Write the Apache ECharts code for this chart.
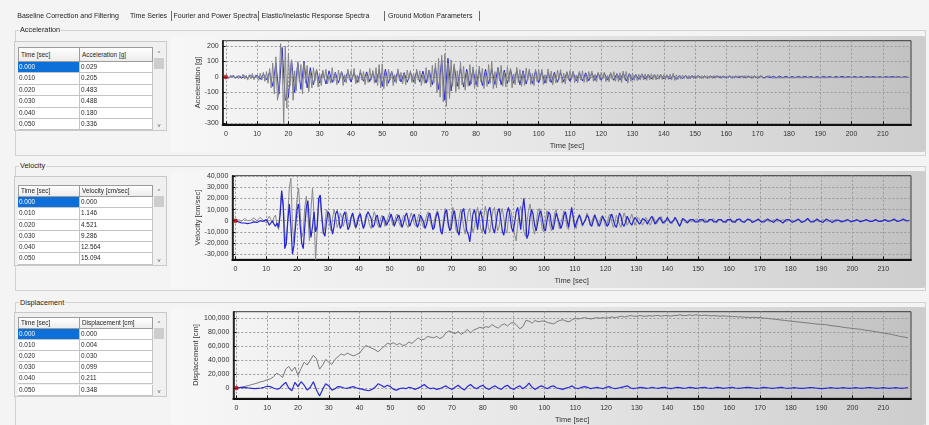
<!DOCTYPE html>
<html>
<head>
<meta charset="utf-8">
<title>Time Series</title>
<script src="https://cdn.jsdelivr.net/npm/echarts@6.0.0/dist/echarts.min.js"></script>
<style>
html,body{margin:0;padding:0;}
body{width:929px;height:425px;overflow:hidden;position:relative;background:#f4f4f4;font-family:'Liberation Sans',Arial,sans-serif;color:#1e1e1e;}
#chart{position:absolute;left:0;top:0;width:929px;height:425px;z-index:1;}
.a{position:absolute;white-space:nowrap;}
.tab{font-size:7px;line-height:9px;z-index:3;}
.sep{width:1px;height:10px;background:#6a6a6a;z-index:3;}
.grp{border:1px solid #d2d2d2;z-index:0;box-sizing:border-box;}
.panel{z-index:0;border-radius:3px;background:linear-gradient(90deg,#f7f7f7 0%,#e6e6e6 50%,#cdcdcd 100%);}
.glab{font-size:7.3px;line-height:9px;background:#f4f4f4;padding:0 1px;z-index:3;}
.tbox{background:#f0f0f0;border:1px solid #c9c9c9;box-sizing:border-box;z-index:2;}
.hd{box-sizing:border-box;background:linear-gradient(#ffffff,#ececec);border:1px solid #9c9c9c;font-size:6.4px;padding-left:2px;z-index:3;overflow:hidden;}
.cell{box-sizing:border-box;background:#fff;border-right:1px solid #c4c4c4;border-bottom:1px solid #c4c4c4;font-size:6.4px;padding-left:1px;z-index:3;overflow:hidden;}
.sel{background:#0c70d8;color:#fff;}
.sb{background:#f0f0f0;z-index:3;box-sizing:border-box;}
.thumb{background:#cdcdcd;z-index:4;}
.arr{font-size:6px;color:#606060;z-index:4;text-align:center;width:12px;line-height:8px;}
</style>
</head>
<body>
<div id="chart"></div>
<script>
// ---------------- data ----------------
const tabLabels = ['Baseline Correction and Filtering', 'Time Series', 'Fourier and Power Spectra', 'Elastic/Inelastic Response Spectra', 'Ground Motion Parameters'];
const sectionTitles = ['Acceleration', 'Velocity', 'Displacement'];

const tableTimes = ['0.000', '0.010', '0.020', '0.030', '0.040', '0.050'];
const accTableVals = ['0.029', '0.205', '0.483', '0.488', '0.180', '0.336'];
const velTableVals = ['0.000', '1.146', '4.521', '9.286', '12.564', '15.094'];
const dispTableVals = ['0.000', '0.004', '0.030', '0.099', '0.211', '0.348'];

const timeTicks = [0, 10, 20, 30, 40, 50, 60, 70, 80, 90, 100, 110, 120, 130, 140, 150, 160, 170, 180, 190, 200, 210];
const accTicks = [-300, -200, -100, 0, 100, 200];
const velTicks = [-30000, -20000, -10000, 0, 10000, 20000, 30000, 40000];
const dispTicks = [0, 20000, 40000, 60000, 80000, 100000];

// sample spacing (seconds) of each hand-read series
const accGrayDt = 0.5, accBlueDt = 1.0, velDt = 0.5, dispDt = 1.0;

const accGray = [
 0, 6, -8, 10, -5, 12, -10, 7, -12, 9, -6, 18, -14, 10, -20, 15, -12, 22, -18, 14,
 18, -22, 25, -20, 30, -28, 35, -40, 55, -70, 90, -110, 130, -150, -100, 215, 100, -295, 200, -200,
 150, -60, 110, -150, 40, -90, 100, -30, 80, -110, 90, -40, 75, -95, 30, -70, 60, -25, 50, -65,
 20, -55, 45, -15, 50, -45, 10, -40, 60, -30, 25, -50, 45, -10, 36, -55, 15, -38, 50, -20,
 40, -15, 55, -45, 12, -35, 48, -20, 35, -50, 20, -36, 55, -18, 42, -40, 60, -55, 80, -70,
 85, -75, 30, -60, 50, -20, 38, -55, 15, -40, 52, -25, 30, -45, 20, -50, 45, -15, 40, -35,
 25, -45, 50, -20, 40, -55, 15, -40, 60, -30, 45, -65, 75, -40, 90, -100, 120, -130, 140, -160,
 150, -190, 90, -140, 110, -60, 85, -95, 40, -80, 95, -50, 70, -85, 30, -60, 80, -45, 65, -75,
 40, -65, 70, -30, 55, -75, 25, -60, 80, -40, 100, -75, 35, -70, 60, -25, 75, -60, 30, -65,
 65, -30, 55, -70, 20, -50, 62, -35, 48, -60, 30, -55, 58, -20, 52, -48, 25, -55, 50, -30,
 45, -20, 50, -48, 15, -40, 52, -30, 38, -50, 20, -38, 45, -15, 48, -40, 25, -45, 35, -20,
 40, -15, 38, -36, 12, -38, 36, -20, 40, -35, 15, -34, 35, -12, 38, -28, 18, -32, 30, -15,
 30, -12, 32, -30, 10, -31, 29, -15, 34, -28, 20, -30, 28, -36, 38, -15, 35, -40, 25, -28,
 25, -22, 20, -24, 18, -20, 22, -18, 20, -22, 17, -19, 21, -18, 16, -20, 18, -15, 19, -17,
 16, -18, 15, -17, 18, -20, 25, -22, 14, -16, 12, -14, 13, -11, 12, -13, 10, -12, 11, -10,
 10, -9, 11, -10, 9, -11, 10, -8, 9, -10, 8, -9, 10, -8, 9, -7, 8, -9, 7, -8,
 8, -7, 9, -8, 7, -8, 8, -7, 9, -8, 7, -9, 10, -8, 9, -7, 8, -10, 9, -8,
 8, -7, 7, -6, 6, -7, 6, -5, 7, -6, 5, -6, 6, -5, 5, -6, 6, -5, 5, -4,
 5, -5, 4, -6, 5, -4, 6, -5, 4, -5, 5, -4, 4, -5, 6, -4, 5, -4, 4, -5,
 5, -4, 4, -5, 4, -4, 5, -3, 4, -4, 3, -4, 4, -3, 4, -4, 3, -4, 4, -3,
 4, -3, 3, -4, 4, -3, 3, -4, 4, -3, 3, -3, 4, -3, 3, -4, 3, -3, 4, -3,
 3, -3, 4, -3, 3, -4, 3, -3, 3, -2, 3, -3, 2, -3, 3, -2, 3, -2
];

const accBlue = [
 0, -5, 8, -6, 7, -9, 6, -8, 10, -7,
 12, -15, 20, -18, 30, -60, 90, -110, 190, -150,
 -130, 110, -100, 90, -80, 100, -70, 60, -50, 45,
 -40, 35, -45, 40, -35, 30, -38, 34, -30, 36,
 -32, 28, -35, 30, -27, 33, -30, 28, -35, 45,
 -60, 50, -40, 35, -30, 38, -32, 28, -34, 30,
 -30, 35, -32, 38, -40, 45, -50, 60, -80, 110,
 -150, 120, -90, 70, -60, 55, -65, 50, -55, 48,
 -50, 45, -55, 50, -45, 52, -48, 60, -50, 45,
 -42, 48, -40, 45, -50, 40, -45, 38, -42, 40,
 -38, 35, -40, 32, -36, 30, -34, 28, -32, 30,
 -28, 30, -26, 28, -25, 27, -24, 26, -22, 25,
 -22, 24, -20, 23, -21, 22, -20, 24, -26, 22,
 -18, 16, -15, 17, -14, 15, -13, 14, -12, 13,
 -12, 11, -13, 12, -15, 10, -9, 8, -9, 8,
 -7, 8, -7, 6, -7, 6, -6, 7, -6, 5,
 -6, 5, -6, 5, -5, 6, -5, 5, -6, 5,
 -8, 7, -5, 4, -5, 4, -4, 5, -4, 4,
 -4, 3, -4, 4, -3, 4, -3, 3, -4, 3,
 -5, 4, -3, 3, -4, 3, -3, 4, -3, 3,
 -3, 3, -3, 2, -3, 3, -2, 3, -3, 2,
 -3, 2, -2, 3, -2, 2, -3, 2, -2
];

const velGray = [
 0, 500, 1000, 500, -500, 1000, 2000, 1000, 0, -1000, 500, 1500, 2500, 1500, 0, 1000, 3000, 2000, 500, 1500,
 -2000, 2000, 4000, 1000, -2000, 3000, 5000, -4000, -8000, 10000, 26000, 18000, -10000, -22000, 5000, 30000, 38000, -5000, -20000, 2000,
 20000, 29000, 8000, -15000, -10000, 12000, 22000, 5000, -18000, 10000, 29000, 5000, -35000, -10000, 15000, 20000, 2000, -12000, -5000, 10000,
 8000, -3000, -9000, 2000, 10000, 4000, -6000, -2000, 7000, 3000, -5000, 1000, 8000, -1000, -6000, 2000, 6000, -3000, -7000, 1000,
 5000, 7000, -2000, -6000, 1000, 6000, 3000, -4000, -7000, 2000, 8000, 4000, -3000, -6000, 1000, 5000, 2000, -5000, -4000, 3000,
 7000, 2000, -4000, -2000, 4000, 6000, -1000, -5000, 0, 5000, 3000, -4000, -6000, 2000, 7000, 3000, -3000, -5000, 1000, 6000,
 4000, -2000, -6000, -1000, 5000, 8000, 2000, -4000, -7000, 0, 6000, 9000, 3000, -6000, -9000, 2000, 11000, 6000, -5000, -8000,
 3000, 12000, 4000, -8000, -11000, 2000, 10000, 5000, -6000, -12000, -2000, 8000, 11000, -1000, -10000, -6000, 5000, 12000, 4000, -7000,
 -10000, 2000, 13000, 6000, -6000, -10000, 1000, 9000, 12000, 0, -9000, -5000, 6000, 11000, 3000, -8000, -11000, 2000, 10000, 7000,
 -4000, -12000, -18000, -4000, 8000, 13000, 4000, -9000, -14000, -2000, 9000, 15000, 6000, -7000, -12000, -3000, 8000, 11000, 2000, -8000,
 -10000, 1000, 9000, 6000, -5000, -9000, -2000, 7000, 10000, 1000, -7000, -8000, 3000, 9000, 4000, -6000, -8000, 2000, 10000, 5000,
 -4000, -7000, 1000, 6000, 3000, -5000, -6000, 2000, 7000, 2000, -4000, -5000, 3000, 6000, 1000, -5000, -4000, 3000, 5000, 0,
 -5000, -3000, 4000, 6000, -1000, -6000, -2000, 5000, 4000, -3000, -6000, 1000, 7000, 3000, -4000, -5000, 2000, 6000, 1000, -4000,
 -3000, 3000, 4000, -1000, -4000, -1000, 3000, 4000, -2000, -4000, 0, 3000, 2000, -3000, -3000, 2000, 4000, 0, -3000, -2000,
 2000, 3000, -1000, -3000, 0, 3000, 1000, -3000, -5000, -1000, 2000, 1000, -2000, -2000, 1000, 2000, -1000, -2000, 0, 2000,
 1000, -1000, -2000, 0, 2000, 1000, -1000, -2000, 0, 1000, 2000, 0, -2000, -1000, 1000, 2000, 0, -1000, -2000, 0,
 1000, 2000, 0, -1000, -2000, -1000, 1000, 2000, 1000, -1000, -2000, 0, 1000, 1500, 0, -1500, -1000, 500, 1500, 500,
 -1000, -1500, 0, 1000, 1500, 0, -1000, -1000, 500, 1000, 500, -500, -1000, 0, 1000, 1000, 0, -1000, -500, 500,
 1000, 500, -500, -1000, 0, 1000, 500, -500, -1000, -500, 500, 1000, 0, -1000, -500, 500, 1000, 0, -500, -1000,
 0, 1000, 500, -500, -1000, 0, 500, 1000, 0, -1000, -500, 500, 1000, 0, -500, -1000, 0, 500, 1000, 0,
 -500, -1000, 0, 500, 500, 0, -500, -500, 0, 500, 1000, 0, -500, -500, 0, 500, 500, -500, -500, 0,
 500, 500, 0, -500, -500, 0, 500, 500, 0, -500, -500, 0, 500, 500, 0, -500, 0, 500
];

const velBlue = [
 0, -500, -1000, -1500, -2000, -2500, -2000, -1500, -2500, -3000, -2000, -1500, -1000, -2000, -1500, -1000, 0, 500, -500, 0,
 1000, -1000, -4000, -2000, 0, -3000, -5000, -2000, -6000, 5000, 27000, 12000, -25000, -20000, 0, 15000, -5000, -30000, -22000, -5000,
 10000, 15000, -5000, -20000, -25000, -5000, 12000, 18000, -2000, -15000, -5000, 8000, -10000, -5000, 20000, 23000, 5000, -10000, -14000, -2000,
 8000, 6000, -4000, -12000, -5000, 6000, 9000, 2000, -7000, -4000, 5000, 8000, 0, -8000, -5000, 3000, 7000, 1000, -6000, -3000,
 4000, 6000, -1000, -7000, -3000, 5000, 8000, 9000, 2000, -6000, -4000, 3000, 5000, -2000, -6000, -1000, 4000, 3000, -4000, -5000,
 2000, 6000, 1000, -5000, -4000, 3000, 5000, 0, -6000, -2000, 4000, 7000, 1000, -5000, -4000, 3000, 6000, -1000, -6000, -2000,
 5000, 6000, -1000, -7000, -3000, 4000, 7000, 0, -8000, -6000, 3000, 8000, 2000, -9000, -12000, -3000, 7000, 10000, -2000, -9000,
 -6000, 5000, 9000, 0, -9000, -13000, -2000, 8000, 11000, 1000, -9000, -12000, -19000, -6000, 6000, 10000, 3000, -8000, 4000, 9000,
 2000, -8000, -12000, -1000, 9000, 12000, 3000, -7000, -11000, -2000, 8000, 11000, 2000, -9000, -13000, -4000, 7000, 12000, 5000, -6000,
 -10000, -2000, 8000, 12000, 3000, -8000, 8000, 20000, 6000, -16000, -12000, 3000, 10000, 6000, -4000, -9000, -2000, 6000, 9000, 2000,
 -7000, -9000, 0, 8000, 6000, -4000, -8000, -1000, 7000, 8000, -2000, -7000, -3000, 5000, 8000, 1000, -6000, 4000, 12000, 3000,
 -6000, -5000, 2000, 5000, 1000, -4000, -5000, 1000, 5000, 3000, -3000, -5000, 0, 5000, 4000, -2000, -5000, -1000, 4000, 5000,
 -1000, -5000, -3000, 3000, 6000, 1000, -4000, -6000, 0, 7000, 4000, -3000, -5000, -1000, 4000, 3000, -2000, -4000, 0, 3000,
 3000, -1000, -3000, -1000, 2000, 3000, 0, -3000, -2000, 2000, 4000, 1000, -3000, -3000, 1000, 3000, 1000, -2000, -3000, 0,
 3000, 2000, -2000, -3000, 0, 3000, 2000, -2000, -5000, -2000, 2000, 3000, 0, -2000, -2000, 1000, 2000, 1000, -1000, -2000,
 -1000, 1000, 2000, 1000, -1000, -2000, -1000, 1000, 2000, 1000, -1000, -2000, -1000, 1000, 2000, 1000, -1000, -2000, -1000, 1000,
 2000, 1000, -1000, -2000, -1000, 1000, 2000, 1500, -500, -2000, -1500, 0, 1500, 2000, 500, -1500, -2000, -500, 1000, 1500,
 500, -1000, -2000, -1000, 500, 1500, 1500, 0, -1500, -1500, 0, 1500, 1500, 0, -1500, -2000, -500, 1000, 2000, 1000,
 -500, -1500, -1500, 0, 1500, 1500, 0, -1500, -2000, -500, 1000, 2000, 1000, -1000, -2000, -1000, 500, 1500, 1000, -500,
 -1500, -1500, 0, 1500, 1500, 0, -1000, -1500, -500, 500, 1000, 500, -500, -1000, -1000, 0, 1000, 1000, 0, -1000,
 -1000, 0, 1000, 1000, 0, -1000, -1000, 0, 500, 1000, 500, -500, -1000, -500, 500, 1000, 500, -500, -1000, -500,
 500, 1000, 500, -500, -1000, 0, 1000, 1500, 500, -500, -1000, 0, 1000, 1500, 1000, 0, -500, 0
];

const dispGray = [
 0, 500, 1500, 2500, 3500, 5000, 6000, 7500, 9000, 10000,
 12000, 13000, 16000, 21000, 19000, 15000, 27000, 31000, 24000, 30000,
 18000, 28000, 37000, 33000, 40000, 47000, 42000, 27000, 33000, 41000,
 37000, 34000, 41000, 45000, 49000, 47000, 50000, 48000, 46000, 48000,
 50000, 56000, 61000, 59000, 57000, 55000, 52000, 56000, 60000, 64000,
 63000, 65000, 62000, 64000, 61000, 62000, 66000, 64000, 68000, 72000,
 69000, 70000, 74000, 73000, 72000, 74000, 71000, 73000, 79000, 82000,
 80000, 78000, 81000, 77000, 80000, 84000, 79000, 83000, 85000, 87000,
 86000, 88000, 87000, 91000, 88000, 86000, 90000, 92000, 89000, 93000,
 94000, 90000, 85000, 88000, 97000, 96000, 93000, 97000, 95000, 96000,
 96000, 94000, 93000, 92000, 95000, 97000, 98000, 96000, 95000, 98000,
 100000, 99000, 100000, 101000, 100000, 99000, 100000, 101000, 100000, 101000,
 100000, 101000, 102000, 101000, 102000, 103000, 102000, 103000, 104000, 103000,
 103000, 104000, 103000, 103000, 104000, 103000, 104000, 104000, 103000, 104000,
 104000, 103000, 104000, 104000, 105000, 104000, 104000, 105000, 104000, 105000,
 104500, 104000, 104500, 104000, 103500, 104000, 103500, 103000, 103500, 103000,
 103000, 102500, 102500, 102000, 102000, 101500, 101500, 101000, 101500, 101000,
 101000, 100500, 100000, 99500, 99000, 98500, 98000, 97500, 97000, 96500,
 96000, 95500, 95000, 94500, 94000, 93500, 93000, 92500, 92000, 91500,
 91500, 91000, 90500, 89500, 89000, 88500, 88000, 87000, 86500, 86000,
 85500, 85000, 84500, 84000, 83000, 82500, 82000, 81000, 80500, 79500,
 79000, 78000, 77500, 76500, 75500, 74500, 73500, 73000, 72000
];

const dispBlue = [
 0, 500, 1000, 500, 0, -500, -1000, -500, 0, 1000,
 2500, 2000, 0, -1500, -1000, 4000, 8000, 0, -4000, 8000,
 2000, 9000, 4000, -3000, 1000, 9000, -3000, -11500, -2000, 6000,
 3000, -3000, -1000, 2000, 1500, 0, -500, 1000, 2000, 0,
 -1000, -2000, -3000, -4000, -2000, 1000, 6000, 4000, 1000, 4000,
 2000, -2000, -3000, -1000, 0, -1000, 1000, 0, -2000, 0,
 2000, 5000, 1000, -1000, 0, -2000, -1000, 1000, 3000, 0,
 -2000, 1000, 4000, 0, -3000, 2000, 5000, 1000, -1000, 2000,
 4000, 0, -2000, 1000, 3000, 0, -2000, 2000, 4000, 0,
 -2000, 1000, 3000, -1000, 2000, 7000, 1000, -2000, 1000, 3000,
 1000, -1000, 2000, 3000, 0, -1000, -2000, 0, 1000, 3000,
 0, -1000, 1000, 2000, 1000, -1000, 0, 1000, 0, -1000,
 1000, 2000, 0, -1000, 0, 1000, 2000, 3000, 0, -1000,
 0, 1000, 500, -500, 0, 1000, 0, -500, 500, 1000,
 0, -1000, 0, 1000, 500, -500, 0, 1000, 500, -500,
 0, 500, 1000, 0, -500, 0, 1000, 500, -500, 0,
 500, 1000, 0, -500, 0, 500, 1000, 500, 0, -500,
 0, 1000, 500, 0, -500, 0, 500, 1000, 0, -500,
 0, 500, 0, -500, -500, 0, 500, 500, 0, -500,
 -1000, -500, 0, 500, 0, -500, 0, 500, 0, -500,
 0, 500, 0, -500, 0, 500, 500, 0, -500, 0,
 500, 0, -500, 0, 500, 0, -500, 0, 500
];

const startPoint = [[0, 0]];

// ---------------- static UI (tabs, group boxes, grids) ----------------
function mk(cls, css, text) {
  const d = document.createElement('div');
  d.className = 'a ' + cls;
  for (const k in css) d.style[k] = (typeof css[k] === 'number') ? css[k] + 'px' : css[k];
  if (text !== undefined) d.textContent = text;
  document.body.appendChild(d);
  return d;
}
const tabX = [17.3, 130, 173.5, 261.5, 388];
const sepX = [170.7, 258, 384, 479];
tabLabels.forEach((t, i) => mk('tab', {left: tabX[i], top: 11}, t));
sepX.forEach(x => mk('sep', {left: x, top: 11}));

const groups = [
  {top: 30, h: 126, labY: 25},
  {top: 166, h: 125, labY: 160.5},
  {top: 302, h: 124, labY: 297.5}
];
groups.forEach((g, i) => {
  mk('grp', {left: 15, top: g.top, width: 911, height: g.h});
  mk('glab', {left: 19, top: g.labY}, sectionTitles[i]);
});

const panels = [
  {top: 36, h: 116}, {top: 171, h: 117}, {top: 306.5, h: 118}
];
panels.forEach(p => mk('panel', {left: 171, top: p.top, width: 755, height: p.h}));

const tables = [
  {boxTop: 41, hTop: 47, rTop: 62, rH: 11.4, head: 'Acceleration [g]', vals: accTableVals},
  {boxTop: 176, hTop: 185, rTop: 197.1, rH: 11.26, head: 'Velocity [cm/sec]', vals: velTableVals},
  {boxTop: 312, hTop: 317, rTop: 329.2, rH: 11.06, head: 'Displacement [cm]', vals: dispTableVals}
];
tables.forEach(t => {
  const bottom = t.rTop + 6 * t.rH;
  mk('tbox', {left: 14, top: t.boxTop, width: 153, height: bottom - t.boxTop + 1});
  const hh = t.rTop - t.hTop;
  mk('hd', {left: 18, top: t.hTop, width: 62, height: hh, lineHeight: (hh - 2) + 'px'}, 'Time [sec]');
  mk('hd', {left: 79, top: t.hTop, width: 74, height: hh, lineHeight: (hh - 2) + 'px'}, t.head);
  tableTimes.forEach((tm, r) => {
    const y = t.rTop + r * t.rH;
    const c1 = mk('cell', {left: 18, top: y, width: 62, height: t.rH, lineHeight: (t.rH - 1) + 'px'}, tm);
    if (r === 0) c1.classList.add('sel');
    mk('cell', {left: 80, top: y, width: 73, height: t.rH, lineHeight: (t.rH - 1) + 'px'}, t.vals[r]);
  });
  mk('sb', {left: 153, top: t.hTop, width: 12, height: bottom - t.hTop});
  mk('arr', {left: 153, top: t.hTop + 2}, '^');
  mk('thumb', {left: 154, top: t.hTop + 11, width: 10, height: 11});
  mk('arr', {left: 153, top: bottom - 9}, 'v');
});

// ---------------- chart ----------------
const chart = echarts.init(document.getElementById('chart'), null, {renderer: 'canvas'});

function pairs(vals, dt) { return vals.map((v, i) => [Math.round(i * dt * 100) / 100, v]); }

const FONT = 'Liberation Sans';
const grids = [
  {left: 222.7, top: 40.7, right: 18, height: 83.6},
  {left: 232.3, top: 175.7, right: 18, height: 83.6},
  {left: 233.3, top: 311.7, right: 18, height: 86.6}
];
const plotBg = {type: 'linear', x: 0, y: 0, x2: 1, y2: 0.4,
  colorStops: [{offset: 0, color: '#f4f4f4'}, {offset: 0.5, color: '#dedede'}, {offset: 1, color: '#c2c2c2'}]};

const splitStyle = {show: true, lineStyle: {color: '#9a9a9a', type: [2, 2], width: 1}};

function xAxis(gi) {
  return {
    type: 'value', gridIndex: gi, min: -1, max: 219,
    axisLine: {show: true, onZero: false, lineStyle: {color: '#111', width: 2}},
    axisTick: {show: true, inside: true, length: 3, customValues: timeTicks, lineStyle: {color: '#111'}},
    axisLabel: {customValues: timeTicks, fontSize: 7, color: '#333', margin: 6, fontFamily: FONT},
    splitLine: splitStyle,
    name: 'Time [sec]', nameLocation: 'middle', nameGap: 18, nameMoveOverlap: false,
    nameTextStyle: {fontSize: 7.5, color: '#333', fontFamily: FONT}
  };
}
function yAxis(gi, min, max, ticks, name, gap) {
  return {
    type: 'value', gridIndex: gi, min: min, max: max,
    axisLine: {show: true, onZero: false, lineStyle: {color: '#111', width: 1.5}},
    axisTick: {show: true, inside: true, length: 3, customValues: ticks, lineStyle: {color: '#111'}},
    axisLabel: {customValues: ticks, fontSize: 7, color: '#333', margin: 4, fontFamily: FONT},
    splitLine: splitStyle,
    name: name, nameLocation: 'middle', nameGap: gap, nameRotate: 90, nameMoveOverlap: false,
    nameTextStyle: {fontSize: 7.5, color: '#333', fontFamily: FONT}
  };
}
function line(xi, data, color, z, w) {
  return {type: 'line', xAxisIndex: xi, yAxisIndex: xi, data: data, showSymbol: false, symbol: 'none',
    lineStyle: {color: color, width: w || 1}, itemStyle: {color: color}, z: z, silent: true, animation: false};
}
function dot(xi) {
  return {type: 'scatter', xAxisIndex: xi, yAxisIndex: xi, data: startPoint, symbol: 'circle', symbolSize: 4,
    itemStyle: {color: '#c40000', borderColor: '#7a0000', borderWidth: 0.5}, z: 10, silent: true};
}

chart.setOption({
  animation: false,
  textStyle: {fontFamily: FONT},
  grid: grids.map(g => Object.assign({show: true, backgroundColor: plotBg, borderColor: '#3a3a3a', borderWidth: 1,
    containLabel: false, outerBoundsMode: 'none'}, g)),
  xAxis: [xAxis(0), xAxis(1), xAxis(2)],
  yAxis: [
    yAxis(0, -305, 234, accTicks, 'Acceleration [g]', 21),
    yAxis(1, -34500, 40300, velTicks, 'Velocity [cm/sec]', 30),
    yAxis(2, -14800, 109500, dispTicks, 'Displacement [cm]', 33)
  ],
  series: [
    line(0, pairs(accBlue, accBlueDt), '#2b2bd6', 2, 1),
    line(0, pairs(accGray, accGrayDt), '#858585', 3, 1),
    dot(0),
    line(1, pairs(velGray, velDt), '#8a8a8a', 2, 1),
    line(1, pairs(velBlue, velDt), '#2424d8', 3, 1.2),
    dot(1),
    line(2, pairs(dispGray, dispDt), '#7a7a7a', 2, 1),
    line(2, pairs(dispBlue, dispDt), '#2a2ad8', 3, 1.2),
    dot(2)
  ]
});
</script>
</body>
</html>
